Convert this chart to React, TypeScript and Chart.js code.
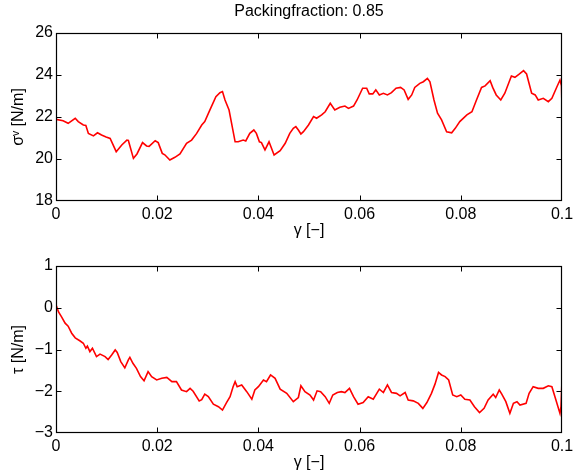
import React, { useEffect, useRef } from "react";
import { Chart, registerables } from "chart.js";
Chart.register(...registerables);

const FONT = '"Liberation Sans", Arial, Helvetica, sans-serif';

const titleText = "Packingfraction: 0.85";
const xTitle = "γ [−]";
const yTitleTop = "σᵛ [N/m]";
const yTitleBottom = "τ [N/m]";

const xTickLabels = ["0", "0.02", "0.04", "0.06", "0.08", "0.1"];
const yTickLabelsTop = ["18", "20", "22", "24", "26"];
const yTickLabelsBottom = ["−3", "−2", "−1", "0", "1"];

const gammaTop = [
  0, 0.0014, 0.0024, 0.0038, 0.0044, 0.0054, 0.0059, 0.0064, 0.0074, 0.0082, 0.009, 0.0099, 0.0107,
  0.0119, 0.013, 0.014, 0.0143, 0.0153, 0.016, 0.0171, 0.0179, 0.0184, 0.0196, 0.0202, 0.021, 0.0215,
  0.0225, 0.0235, 0.0245, 0.0258, 0.0268, 0.0278, 0.0288, 0.0294, 0.0304, 0.0316, 0.0324, 0.0329,
  0.0334, 0.0342, 0.0354, 0.036, 0.037, 0.0375, 0.0383, 0.0391, 0.0396, 0.0402, 0.0406, 0.0413,
  0.0421, 0.0431, 0.0443, 0.0453, 0.0462, 0.0469, 0.0474, 0.0479, 0.0484, 0.0489, 0.0499, 0.0509,
  0.0515, 0.0525, 0.0532, 0.0542, 0.0551, 0.0561, 0.0571, 0.0578, 0.0588, 0.0595, 0.0606, 0.0614,
  0.0619, 0.0626, 0.0632, 0.0639, 0.0647, 0.0655, 0.0663, 0.0672, 0.0681, 0.0688, 0.0696, 0.0703,
  0.0709, 0.0719, 0.0726, 0.0734, 0.0739, 0.0747, 0.0754, 0.0762, 0.0772, 0.0782, 0.0789, 0.0798,
  0.0812, 0.0822, 0.0831, 0.0841, 0.0848, 0.0858, 0.0863, 0.087, 0.0879, 0.0887, 0.09, 0.0907,
  0.0916, 0.0924, 0.093, 0.094, 0.0947, 0.0953, 0.0963, 0.0973, 0.098, 0.099, 0.0996, 0.0999, 0.1,
];
const sigmaV = [
  21.89, 21.82, 21.7, 21.94, 21.78, 21.62, 21.6, 21.22, 21.1, 21.25, 21.14, 21.05, 20.98,
  20.35, 20.67, 20.9, 20.88, 20.03, 20.24, 20.78, 20.62, 20.6, 20.87, 20.78, 20.27, 20.2,
  19.95, 20.08, 20.24, 20.75, 20.9, 21.22, 21.62, 21.78, 22.33, 22.97, 23.16, 23.21,
  22.81, 22.33, 20.82, 20.82, 20.9, 20.86, 21.22, 21.38, 21.22, 20.82, 20.78, 20.43,
  20.82, 20.19, 20.4, 20.75, 21.22, 21.46, 21.54, 21.38, 21.19, 21.3, 21.62, 22.02,
  21.94, 22.1, 22.25, 22.65, 22.33, 22.46, 22.52, 22.41, 22.52, 22.81, 23.37, 23.37,
  23.1, 23.1, 23.29, 23.05, 23.13, 23.05, 23.16, 23.37, 23.41, 23.29, 22.84, 23.05,
  23.41, 23.6, 23.68, 23.84, 23.68, 22.81, 22.18, 21.86, 21.3, 21.25, 21.46, 21.78,
  22.1, 22.25, 22.81, 23.41, 23.48, 23.73, 23.41, 23.05, 22.81, 23.13, 23.95, 23.89,
  24.05, 24.21, 24.05, 23.13, 23.05, 22.81, 22.89, 22.73, 22.89, 23.44, 23.76, 23.48, 22.41,
];

const gammaBottom = [
  0, 0.0005, 0.0011, 0.0018, 0.0024, 0.0031, 0.0038, 0.0047, 0.0054, 0.0059, 0.0062, 0.0067, 0.0072,
  0.008, 0.0087, 0.0097, 0.0103, 0.011, 0.0117, 0.0121, 0.0128, 0.0136, 0.0143, 0.0146, 0.0152,
  0.0159, 0.0167, 0.0174, 0.0182, 0.0189, 0.0199, 0.0209, 0.0219, 0.0229, 0.0238, 0.0248, 0.0258,
  0.0265, 0.0271, 0.0283, 0.0288, 0.0294, 0.0301, 0.0311, 0.0321, 0.0329, 0.0337, 0.0344, 0.035,
  0.0354, 0.0358, 0.0367, 0.0377, 0.0387, 0.0393, 0.04, 0.041, 0.0416, 0.0424, 0.0433, 0.0443,
  0.0456, 0.0469, 0.0479, 0.0484, 0.0492, 0.0502, 0.0509, 0.0516, 0.0523, 0.0532, 0.054, 0.0547,
  0.0556, 0.0564, 0.0571, 0.058, 0.0588, 0.0597, 0.0607, 0.0617, 0.0627, 0.0639, 0.0647, 0.0655,
  0.0663, 0.0673, 0.068, 0.069, 0.0696, 0.0706, 0.0716, 0.0725, 0.0733, 0.0742, 0.0749, 0.0756,
  0.0762, 0.0769, 0.0776, 0.0784, 0.0792, 0.08, 0.0808, 0.0818, 0.0827, 0.0837, 0.0846, 0.0854,
  0.0864, 0.0869, 0.0876, 0.0881, 0.0889, 0.0897, 0.0904, 0.0911, 0.0917, 0.0929, 0.0935, 0.0943,
  0.0953, 0.0963, 0.0973, 0.098, 0.0988, 0.0996, 0.0998, 0.1,
];
const tau = [
  0.07, -0.1, -0.22, -0.37, -0.44, -0.61, -0.72, -0.79, -0.85, -0.97, -0.92, -1.05, -0.97,
  -1.17, -1.11, -1.17, -1.24, -1.13, -1.01, -1.07, -1.29, -1.44, -1.25, -1.19, -1.33,
  -1.45, -1.65, -1.75, -1.53, -1.65, -1.73, -1.69, -1.67, -1.77, -1.77, -1.97, -2.01,
  -1.93, -2.0, -2.23, -2.2, -2.07, -2.13, -2.31, -2.37, -2.45, -2.27, -2.13, -1.89,
  -1.77, -1.89, -1.85, -2.01, -2.19, -1.97, -1.89, -1.73, -1.77, -1.61, -1.69, -1.95,
  -2.05, -2.25, -2.15, -1.87, -2.01, -2.09, -2.21, -1.99, -2.01, -2.13, -2.29, -2.09,
  -2.03, -2.01, -2.03, -1.93, -2.13, -2.31, -2.27, -2.13, -2.19, -1.95, -2.03, -1.85,
  -2.03, -2.05, -2.11, -2.03, -2.21, -2.23, -2.29, -2.41, -2.27, -2.05, -1.83, -1.55,
  -1.61, -1.65, -1.73, -2.09, -2.13, -2.09, -2.19, -2.21, -2.37, -2.51, -2.41, -2.21,
  -2.07, -2.15, -1.97, -2.07, -2.25, -2.53, -2.29, -2.25, -2.33, -2.29, -2.05, -1.89,
  -1.93, -1.93, -1.87, -1.89, -2.21, -2.53, -2.37, -1.73,
];

const framePlugin = {
  id: "matlabFrame",
  afterDraw(chart: any) {
    const { ctx, chartArea: a } = chart;
    const xs = chart.scales.x;
    const ys = chart.scales.y;
    const L = Math.round(a.left) + 0.5;
    const R = Math.round(a.right) - 0.5;
    const T = Math.round(a.top) + 0.5;
    const B = Math.round(a.bottom) - 0.5;
    const len = 5;
    ctx.save();
    ctx.strokeStyle = "#000";
    ctx.lineWidth = 1;
    ctx.beginPath();
    xs.ticks.forEach((t: any) => {
      const px = Math.round(xs.getPixelForValue(t.value)) + 0.5;
      if (px <= L + 1 || px >= R - 1) return;
      ctx.moveTo(px, B);
      ctx.lineTo(px, B - len);
      ctx.moveTo(px, T);
      ctx.lineTo(px, T + len);
    });
    ys.ticks.forEach((t: any) => {
      const py = Math.round(ys.getPixelForValue(t.value)) + 0.5;
      if (py <= T + 1 || py >= B - 1) return;
      ctx.moveTo(L, py);
      ctx.lineTo(L + len, py);
      ctx.moveTo(R, py);
      ctx.lineTo(R - len, py);
    });
    ctx.stroke();
    ctx.lineWidth = 1.2;
    ctx.strokeRect(L, T, R - L, B - T);
    ctx.restore();
  },
};

function makeConfig(opts: {
  xs: number[];
  ys: number[];
  yMin: number;
  yMax: number;
  yStep: number;
  yLabels: string[];
  yTitle: string;
  withTitle: boolean;
  padTop: number;
  xAxisHeight: number;
  xTitlePadBottom: number;
}) {
  const data = opts.xs.map((x, i) => ({ x, y: opts.ys[i] }));
  const tickFont = { family: FONT, size: 16 };
  const scales: any = {
    x: {
      type: "linear",
      position: "bottom",
      min: 0,
      max: 0.1,
      grid: { display: false, drawTicks: false },
      border: { display: false },
      ticks: {
        stepSize: 0.02,
        padding: 4,
        color: "#000",
        font: tickFont,
        maxRotation: 0,
        autoSkip: false,
        callback: (_v: any, i: number) => xTickLabels[i],
      },
      title: {
        display: true,
        text: xTitle,
        color: "#000",
        font: { family: FONT, size: 16 },
        padding: { top: 0, bottom: opts.xTitlePadBottom },
      },
      afterFit: (s: any) => {
        s.height = opts.xAxisHeight;
        s.paddingLeft = 0;
        s.paddingRight = 0;
      },
    },
    y: {
      type: "linear",
      position: "left",
      min: opts.yMin,
      max: opts.yMax,
      grid: { display: false, drawTicks: false },
      border: { display: false },
      ticks: {
        stepSize: opts.yStep,
        padding: 3,
        color: "#000",
        font: tickFont,
        autoSkip: false,
        callback: (_v: any, i: number) => opts.yLabels[i],
      },
      title: {
        display: true,
        text: opts.yTitle,
        color: "#000",
        font: { family: FONT, size: 16 },
        padding: { top: 9, bottom: 0 },
      },
      afterFit: (s: any) => {
        s.width = 56;
        s.paddingTop = 0;
        s.paddingBottom = 0;
      },
    },
  };
  if (opts.withTitle) {
    scales.x2 = {
      type: "linear",
      position: "top",
      min: 0,
      max: 0.1,
      grid: { display: false, drawTicks: false },
      border: { display: false },
      ticks: { display: false },
      title: {
        display: true,
        text: titleText,
        color: "#000",
        font: { family: FONT, size: 16 },
        padding: { top: 2, bottom: 0 },
      },
      afterFit: (s: any) => {
        s.height = 33;
        s.paddingLeft = 0;
        s.paddingRight = 0;
      },
    };
  }
  return {
    type: "line" as const,
    data: {
      datasets: [
        {
          data,
          borderColor: "#ff0000",
          borderWidth: 1.6,
          pointRadius: 0,
          fill: false,
          tension: 0,
        },
      ],
    },
    options: {
      responsive: false,
      animation: false as const,
      devicePixelRatio: 1,
      layout: { padding: { top: opts.padTop, left: 0, right: 12, bottom: 0 } },
      plugins: { legend: { display: false }, tooltip: { enabled: false }, title: { display: false } },
      scales,
    },
    plugins: [framePlugin],
  };
}

export default function App() {
  const topRef = useRef<HTMLCanvasElement>(null);
  const botRef = useRef<HTMLCanvasElement>(null);

  useEffect(() => {
    const c1 = new Chart(
      topRef.current as HTMLCanvasElement,
      makeConfig({
        xs: gammaTop,
        ys: sigmaV,
        yMin: 18,
        yMax: 26,
        yStep: 2,
        yLabels: yTickLabelsTop,
        yTitle: yTitleTop,
        withTitle: true,
        padTop: 0,
        xAxisHeight: 44,
        xTitlePadBottom: 5,
      }) as any
    );
    const c2 = new Chart(
      botRef.current as HTMLCanvasElement,
      makeConfig({
        xs: gammaBottom,
        ys: tau,
        yMin: -3,
        yMax: 1,
        yStep: 1,
        yLabels: yTickLabelsBottom,
        yTitle: yTitleBottom,
        withTitle: false,
        padTop: 21,
        xAxisHeight: 42,
        xTitlePadBottom: 3,
      }) as any
    );
    return () => {
      c1.destroy();
      c2.destroy();
    };
  }, []);

  return (
    <div style={{ position: "absolute", left: 0, top: 0, width: 574, height: 475, background: "#fff" }}>
      <canvas ref={topRef} width={574} height={245} style={{ position: "absolute", left: 0, top: 0, width: 574, height: 245 }} />
      <canvas ref={botRef} width={574} height={230} style={{ position: "absolute", left: 0, top: 245, width: 574, height: 230 }} />
    </div>
  );
}
